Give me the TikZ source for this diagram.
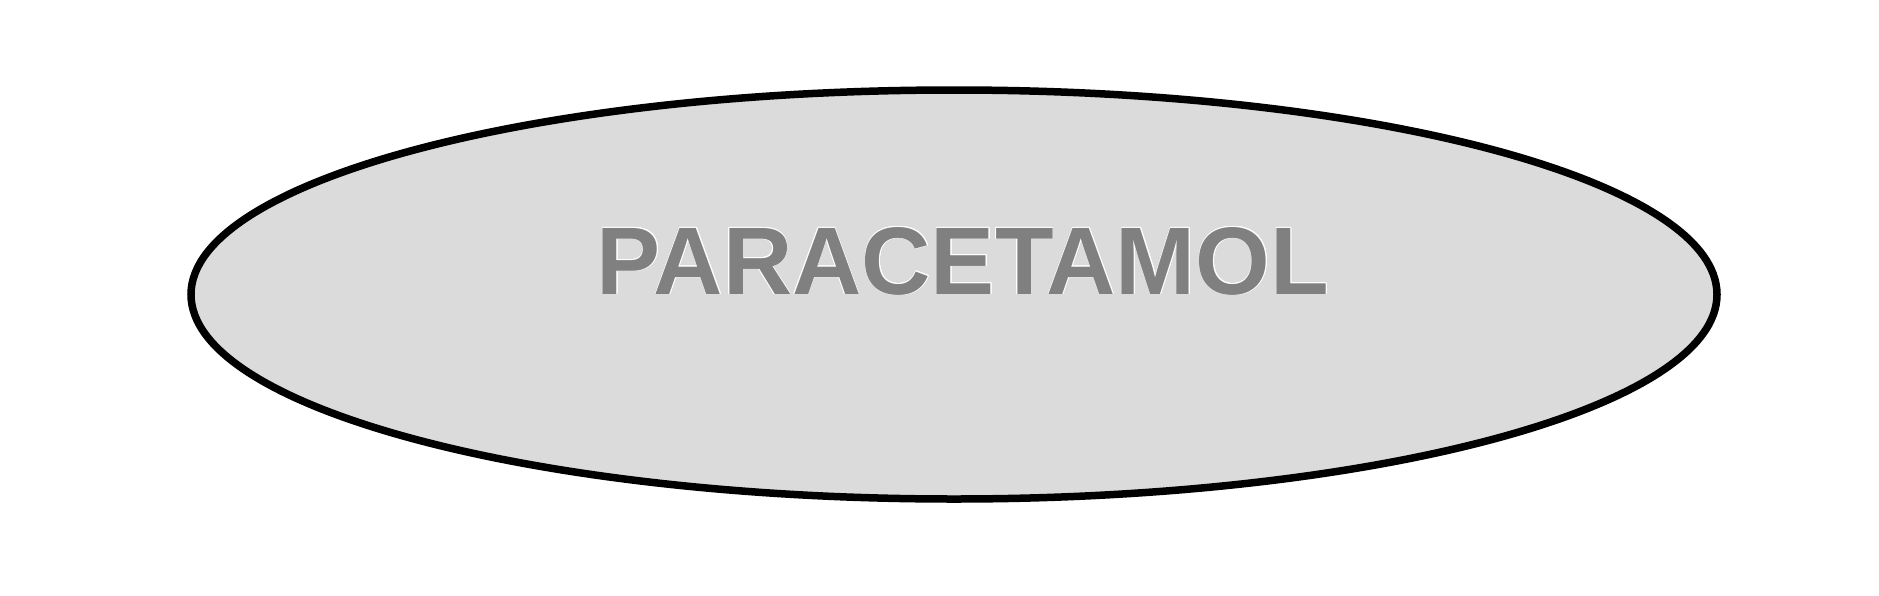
\documentclass[tikz,border=0pt]{standalone}
\usepackage{fontspec}
\setmainfont{Liberation Sans}
\usepackage{contour}
\contourlength{0.5pt}
\usetikzlibrary{shapes.geometric}
\definecolor{fillgray}{HTML}{DBDBDB}
\definecolor{textgray}{HTML}{808080}
\tikzset{
  drugoval/.style={ellipse, draw=black, line width=7.5pt, fill=fillgray, minimum width=1526pt, minimum height=409pt, inner sep=0pt},
  druglabel/.style={font=\fontsize{96}{96}\selectfont\bfseries, text=textgray, inner sep=0pt, anchor=base}
}
\begin{document}
\begin{tikzpicture}[x=1pt,y=-1pt]
\useasboundingbox (0,0) rectangle (1879,595);
\node[drugoval] (oval) at (954,294.5) {};
\node[druglabel] (lbl) at (963,294) {\contour{white}{PARACETAMOL}};
\end{tikzpicture}
\end{document}
